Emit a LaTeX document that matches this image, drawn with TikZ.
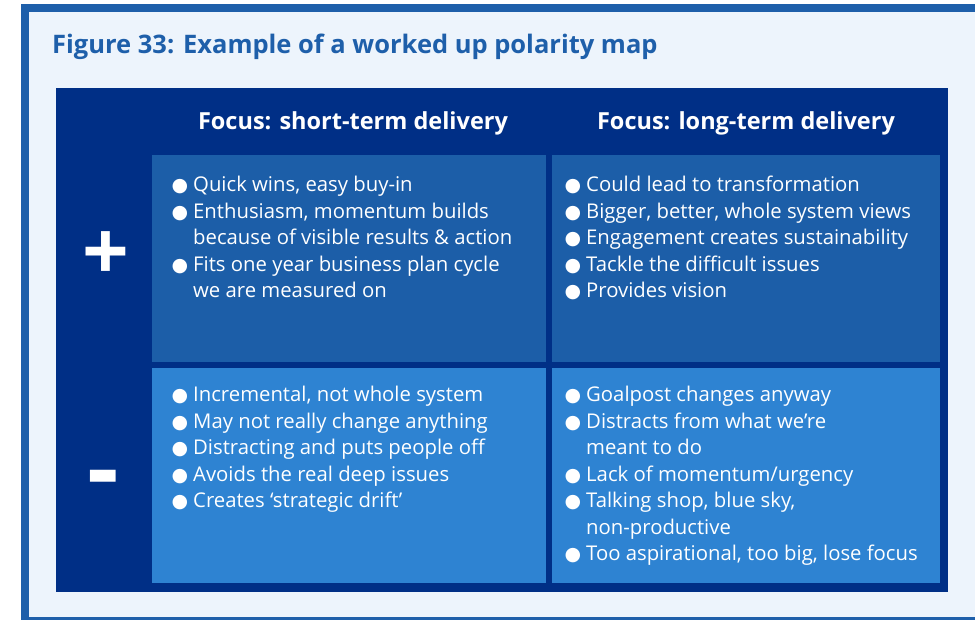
\documentclass[tikz,border=0pt]{standalone}
\usepackage{fontspec}
\setmainfont{Open Sans}
\newfontfamily\symfont{DejaVu Sans}
\usetikzlibrary{positioning}

\definecolor{framecol}{RGB}{30,95,170}
\definecolor{paper}{RGB}{237,244,252}
\definecolor{navy}{RGB}{0,47,134}
\definecolor{pluscell}{RGB}{28,94,168}
\definecolor{minuscell}{RGB}{46,131,210}

% bullet with fixed width, so wrapped lines line up
\newcommand{\blt}{\makebox[19pt][l]{\hspace{-2.5pt}\symfont\fontsize{19}{19}\selectfont ●}}
\newcommand{\cont}{\hphantom{\blt}}

\begin{document}
\begin{tikzpicture}[x=1pt,y=-1pt,
  cell/.style={anchor=north west, inner sep=0pt, align=left, text=white,
    font=\fontsize{20.3}{26.5}\selectfont},
  head/.style={anchor=base, inner sep=0pt, text=white,
    font=\bfseries\fontsize{23.5}{28}\selectfont},
  sign/.style={inner sep=0pt, text=white, font=\bfseries\fontsize{82}{82}\selectfont}]

\clip (0,0) rectangle (975,620);
\fill[white] (0,0) rectangle (975,620);

% frame and paper
\fill[framecol] (21,4) rectangle (995,640);
\fill[paper] (29,12) rectangle (975,617);

% title
\node[anchor=base west, inner sep=0pt, text=framecol,
  font=\bfseries\fontsize{25.5}{30}\selectfont] (title) at (52,54)
  {Figure 33: Example of a worked up polarity map};

% dark panel and the four cells
\fill[navy] (56,88) rectangle (948,592);
\fill[pluscell] (152,155) rectangle (546,362);
\fill[pluscell] (552,155) rectangle (940,362);
\fill[minuscell] (152,368) rectangle (546,583);
\fill[minuscell] (552,368) rectangle (940,583);

% column headings
\node[head] (short) at (353,130) {Focus: short-term delivery};
\node[head] (long) at (746,130) {Focus: long-term delivery};

% row signs
\node[sign] (plus) at (105.5,256) {+};
\node[sign, font=\bfseries\fontsize{98}{98}\selectfont] (minus) at (103.5,486) {-};

% cell texts
\node[cell] (sp) at (174,176) {\blt Quick wins, easy buy-in\\
  \blt Enthusiasm, momentum builds\\
  \cont because of visible results \& action\\
  \blt Fits one year business plan cycle\\
  \cont we are measured on};
\node[cell] (lp) at (567,176) {\blt Could lead to transformation\\
  \blt Bigger, better, whole system views\\
  \blt Engagement creates sustainability\\
  \blt Tackle the difficult issues\\
  \blt Provides vision};
\node[cell] (sm) at (174,386) {\blt Incremental, not whole system\\
  \blt May not really change anything\\
  \blt Distracting and puts people off\\
  \blt Avoids the real deep issues\\
  \blt Creates ‘strategic drift’};
\node[cell] (lm) at (567,386) {\blt Goalpost changes anyway\\
  \blt Distracts from what we’re\\
  \cont meant to do\\
  \blt Lack of momentum/urgency\\
  \blt Talking shop, blue sky,\\
  \cont non-productive\\
  \blt Too aspirational, too big, lose focus};

\end{tikzpicture}
\end{document}
